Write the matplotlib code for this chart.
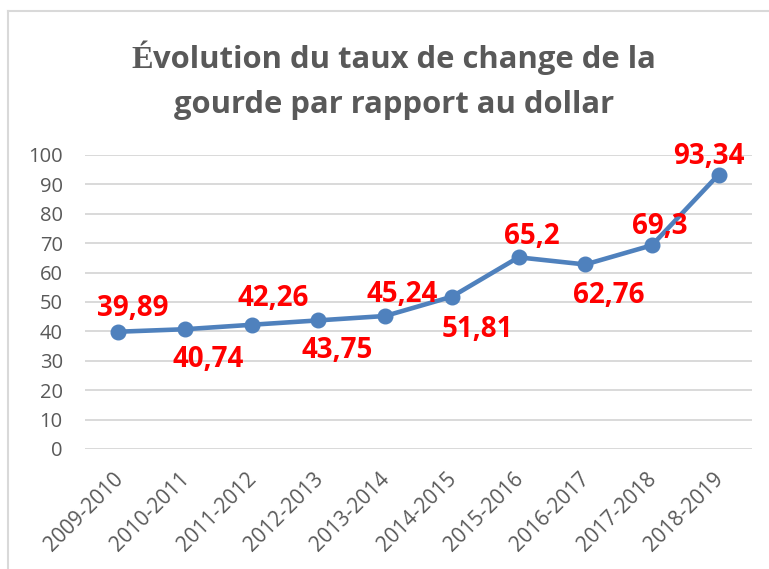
import matplotlib
matplotlib.use("Agg")
import matplotlib.pyplot as plt
from matplotlib.lines import Line2D
import matplotlib.transforms as mtrans

categories = ["2009-2010", "2010-2011", "2011-2012", "2012-2013", "2013-2014",
              "2014-2015", "2015-2016", "2016-2017", "2017-2018", "2018-2019"]
values = [39.89, 40.74, 42.26, 43.75, 45.24, 51.81, 65.2, 62.76, 69.3, 93.34]
labels = ["39,89", "40,74", "42,26", "43,75", "45,24", "51,81", "65,2", "62,76", "69,3", "93,34"]
yticks = [0, 10, 20, 30, 40, 50, 60, 70, 80, 90, 100]

# layout of the data labels (pixel offsets of the label's digit centre from its point)
label_dx = [14, 23, 21, 18.5, 17, 26, 13, 23, 8, -10]
label_dy = [25.5, -28, 29, -27.5, 24, -30, 23.5, -28.5, 21, 20]

W, H = 769, 569
fig = plt.figure(figsize=(W / 100, H / 100), dpi=100)
ax = fig.add_axes([85 / W, 1 - 449 / H, (752 - 85) / W, (449 - 155) / H])

x = list(range(len(categories)))
ax.plot(x, values, color="#4F81BD", lw=3.3, marker="o", ms=10.5, zorder=3,
        solid_capstyle="round", solid_joinstyle="round")
ax.set_xlim(-0.5, len(categories) - 0.5)
ax.set_ylim(0, 100)
ax.set_yticks(yticks)
ax.set_xticks(x)
ax.set_xticklabels(categories, rotation=45, ha="right", va="top", rotation_mode="anchor")
ax.grid(axis="y", color="#D9D9D9", lw=1.4)
ax.set_axisbelow(True)
for s in ax.spines.values():
    s.set_visible(False)
ax.tick_params(length=0, labelcolor="#595959")
ax.tick_params(axis="y", labelsize=14.5, pad=16)
ax.tick_params(axis="x", labelsize=15, pad=14)
shift = mtrans.ScaledTranslation(-6 / 100, 0, fig.dpi_scale_trans)
for t in ax.get_xticklabels():
    t.set_fontfamily("Open Sans")
    t.set_transform(t.get_transform() + shift)
for t in ax.get_yticklabels():
    t.set_fontfamily("Open Sans")

lab_size = 20
digit_half = 0.714 * lab_size * 100 / 72 / 2
for xi, v, lab, dx, dy in zip(x, values, labels, label_dx, label_dy):
    ax.annotate(lab, (xi, v), xytext=(dx, dy - digit_half), textcoords="offset pixels",
                ha="center", va="baseline", color="#FF0000", fontsize=lab_size,
                fontweight="bold", fontfamily="Open Sans", zorder=4,
                annotation_clip=False)

# Title: É in serif, rest in sans
tcolor = "#595959"
tsize = 22.3
fig.canvas.draw()
r = fig.canvas.get_renderer()
t_e = fig.text(0, 1 - 60 / H, "É", fontsize=tsize + 1, fontweight="bold",
               fontfamily="Liberation Serif", color=tcolor, va="center", ha="left")
t_rest = fig.text(0, 1 - 60 / H, "volution du taux de change de la", fontsize=tsize,
                  fontweight="bold", fontfamily="Open Sans", color=tcolor, va="center", ha="left")
we = t_e.get_window_extent(r).width
wr = t_rest.get_window_extent(r).width
cx = 394
start = cx - (we + wr) / 2
t_e.set_x(start / W)
t_rest.set_x((start + we) / W)
fig.text(cx / W, 1 - 105 / H, "gourde par rapport au dollar", fontsize=tsize,
         fontweight="bold", fontfamily="Open Sans", color=tcolor, va="center", ha="center")

# chart border (partially outside the image)
fig.add_artist(Line2D([8 / W, 8 / W], [0, 1 - 11 / H], transform=fig.transFigure,
                      color="#D9D9D9", lw=1.5))
fig.add_artist(Line2D([8 / W, 1], [1 - 11 / H, 1 - 11 / H], transform=fig.transFigure,
                      color="#D9D9D9", lw=1.5))

fig.savefig("out.png", dpi=100)
